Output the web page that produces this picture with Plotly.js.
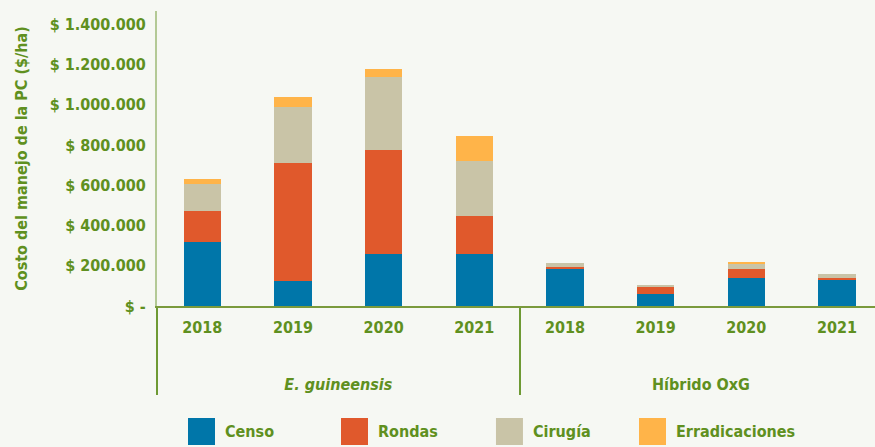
<!DOCTYPE html>
<html>
<head>
<meta charset="utf-8">
<script src="https://cdn.plot.ly/plotly-3.0.1.min.js"></script>
<style>
html,body{margin:0;padding:0;background:#f6f8f3;}
#chart{width:875px;height:447px;}
</style>
</head>
<body>
<div id="chart"></div>
<script>
// Data
const groups = ["<br><br><i>E. guineensis</i>","<br><br><i>E. guineensis</i>","<br><br><i>E. guineensis</i>","<br><br><i>E. guineensis</i>",
                "<br><br>Híbrido OxG","<br><br>Híbrido OxG","<br><br>Híbrido OxG","<br><br>Híbrido OxG"];
const years = ["2018","2019","2020","2021","2018","2019","2020","2021"];
const seriesNames = ["Censo","Rondas","Cirugía","Erradicaciones"];
const seriesColors = ["#0076a9","#e0592c","#c9c4a7","#ffb449"];
const censo = [318000,124000,258000,258000,186000,62000,137000,127000];
const rondas = [154000,586000,517000,189000,10000,30000,49000,10000];
const cirugia = [135000,278000,362000,271000,20000,10000,25000,24000];
const erradicaciones = [23000,50000,40000,126000,0,0,10000,0];
const seriesValues = [censo, rondas, cirugia, erradicaciones];
const yTickVals = [0,200000,400000,600000,800000,1000000,1200000,1400000];
const yTickText = ["$ -","$ 200.000","$ 400.000","$ 600.000","$ 800.000","$ 1.000.000","$ 1.200.000","$ 1.400.000"];

const green = "#5f9020";
const fam = "DejaVu Sans Condensed, DejaVu Sans, sans-serif";

const traces = seriesNames.map((name, i) => ({
  type: "bar",
  name: name,
  x: [groups, years],
  y: seriesValues[i],
  marker: {color: seriesColors[i], line: {width: 0}},
  showlegend: false,
  hoverinfo: "x+y+name"
}));

// custom legend (squares + labels)
const legX = [0.0432, 0.2563, 0.4721, 0.6713];
const sq = 0.0376;
const shapes = [];
const annotations = [];
seriesNames.forEach((name, i) => {
  shapes.push({type: "rect", xref: "paper", yref: "paper",
    x0: legX[i], x1: legX[i] + sq, y0: -0.4712, y1: -0.3797,
    fillcolor: seriesColors[i], line: {width: 0}});
  annotations.push({xref: "paper", yref: "paper", x: legX[i] + sq + 0.011, y: -0.4254,
    xanchor: "left", yanchor: "middle", showarrow: false, text: name,
    font: {family: fam, size: 16, color: green, weight: "bold"}});
});

const layout = {
  width: 875, height: 447,
  margin: {l: 157, r: 0, t: 11, b: 141},
  paper_bgcolor: "#f6f8f3",
  plot_bgcolor: "#f6f8f3",
  barmode: "stack",
  bargap: 0.59,
  font: {family: fam, color: green, weight: "bold"},
  xaxis: {
    type: "multicategory",
    range: [-0.5, 7.42],
    showline: true, linecolor: "#7a9a3c", linewidth: 2,
    ticks: "",
    ticklabelstandoff: 6,
    showgrid: false, zeroline: false,
    tickfont: {family: fam, size: 16, color: green, weight: "bold"},
    dividercolor: "#6e9a34", dividerwidth: 2
  },
  yaxis: {
    range: [0, 1465000],
    showline: true, linecolor: "#b3c995", linewidth: 2,
    showgrid: false, zeroline: false,
    tickvals: yTickVals, ticktext: yTickText,
    ticks: "",
    ticklabelstandoff: 6,
    tickfont: {family: fam, size: 16, color: green, weight: "bold"},
    title: {text: "Costo del manejo de la PC ($/ha)", standoff: 18,
      font: {family: fam, size: 16, color: green, weight: "bold"}}
  },
  shapes: shapes,
  annotations: annotations
};

Plotly.newPlot("chart", traces, layout, {displayModeBar: false, staticPlot: true});
</script>
</body>
</html>
